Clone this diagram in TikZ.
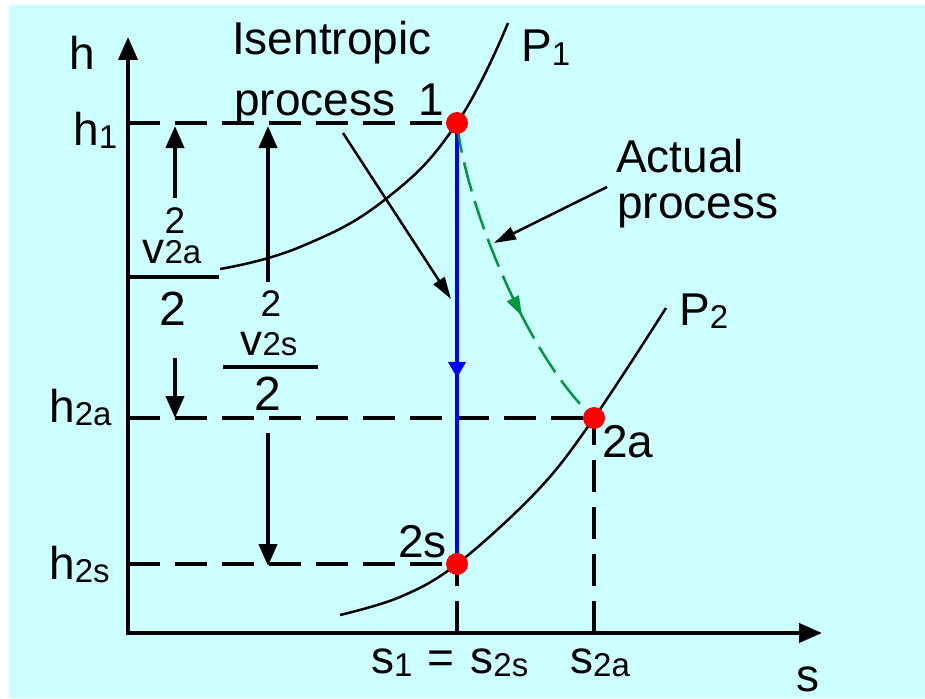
\documentclass[tikz,border=0pt]{standalone}
\usepackage{fontspec}
\setmainfont{Liberation Sans}
\usetikzlibrary{arrows.meta,decorations.markings}
\definecolor{bgcyan}{RGB}{204,255,255}
\definecolor{pgreen}{RGB}{0,150,60}
\newcommand{\bigf}{\fontsize{46}{50}\selectfont}
\newcommand{\subf}[1]{\raisebox{-3.5pt}{\fontsize{33}{35}\selectfont #1}}
\newcommand{\vf}{\fontsize{44}{46}\selectfont}
\newcommand{\vsub}{\fontsize{33}{35}\selectfont}
\newcommand{\supf}{\fontsize{37}{40}\selectfont}
\newcommand{\denf}{\fontsize{48}{50}\selectfont}
\begin{document}
\begin{tikzpicture}[x=1pt,y=-1pt,
  lbl/.style={inner sep=0pt, anchor=base west, font=\bigf},
  ctr/.style={inner sep=0pt, anchor=base},
  dot/.style={circle, fill=red, minimum size=22pt, inner sep=0pt},
  dashline/.style={line width=4pt, dash pattern=on 32pt off 15pt},
  thick4/.style={line width=4pt},
  farrow/.style={line width=4pt, -{Triangle[length=22pt,width=18pt]}},
  ptr/.style={line width=2.5pt, -{Triangle[length=22pt,width=13pt]}},
  pcurve/.style={line width=2.5pt},
]
\useasboundingbox (0,0) rectangle (925,698);
\fill[white] (0,0) rectangle (925,698);
\fill[bgcyan] (9,5) rectangle (925,698);

% key coordinates
\coordinate (O) at (128,633);
\coordinate (ytop) at (128,37);
\coordinate (xend) at (822,633);
\coordinate (c1) at (457,123);
\coordinate (c2s) at (457,564);
\coordinate (c2a) at (594,418);

% axes
\draw[line width=4pt, {Triangle[length=23pt,width=19pt]}-{Triangle[length=23pt,width=19pt]}] (ytop) -- (O) -- (xend);

% dashed guide lines
\draw[dashline] (O |- c1) -- (c1);
\draw[dashline] (O |- c2a) -- (c2a);
\draw[dashline] (O |- c2s) -- (c2s);
\draw[dashline] (c2s |- O) -- (c2s);
\draw[dashline] (c2a |- O) -- (c2a);

% pressure curves
\draw[pcurve] plot[smooth, tension=0.75] coordinates {(220,269) (300,247) (387,198) (c1) (508,23)};
\draw[pcurve] plot[smooth, tension=0.6] coordinates {(340,615) (400,597) (c2s) (538,490) (c2a) (666,308)};

% isentropic process line
\draw[blue, line width=4pt, postaction={decorate},
  decoration={markings, mark=at position 0.578 with {\arrow{Triangle[length=16pt,width=17pt]}}}]
  (c1) -- (c2s);

% actual process curve
\draw[pgreen, line width=2.5pt, dash pattern=on 30pt off 10pt, postaction={decorate},
  decoration={markings, mark=at position 0.62 with {\arrow{Triangle[length=20pt,width=13pt]}}}]
  (c1) .. controls (467,210) and (530,360) .. (c2a);

% kinetic energy arrows
\coordinate (a1s) at (175,198); \coordinate (a1e) at (175,126);
\coordinate (a2s) at (175,358); \coordinate (a2e) at (175,418);
\coordinate (a3s) at (268,282); \coordinate (a3e) at (268,126);
\coordinate (a4s) at (268,433); \coordinate (a4e) at (268,566);
\draw[farrow] (a1s) -- (a1e);
\draw[farrow] (a2s) -- (a2e);
\draw[farrow] (a3s) -- (a3e);
\draw[farrow] (a4s) -- (a4e);

% fractions
\coordinate (fa1) at (128,277); \coordinate (fa2) at (219,277);
\coordinate (fs1) at (223,367); \coordinate (fs2) at (318,367);
\draw[thick4] (fa1) -- (fa2);
\draw[thick4] (fs1) -- (fs2);
\node[ctr, font=\supf, text depth=0pt] (sa) at (175,233) {2};
\node[ctr, text height=23pt] (va) at (172,263) {{\vf v}{\vsub 2a}};
\node[ctr, font=\denf] (da) at (173,325) {2};
\node[ctr, font=\supf, text depth=0pt] (ss) at (271,316) {2};
\node[ctr, text height=24pt] (vs) at (269,355) {{\vf v}{\vsub 2s}};
\node[ctr, font=\denf] (ds) at (268,410) {2};

% label pointer arrows
\coordinate (isoS) at (343,133); \coordinate (isoE) at (451,299);
\coordinate (actS) at (607,187); \coordinate (actE) at (494,243);
\draw[ptr] (isoS) -- (isoE);
\draw[ptr] (actS) -- (actE);

% state points
\node[dot] (p1) at (c1) {};
\node[dot] (p2s) at (c2s) {};
\node[dot] (p2a) at (c2a) {};

% labels
\node[lbl] (lh) at (69,70) {h};
\node[lbl] (lh1) at (73,145) {h\subf{1}};
\node[lbl] (lh2a) at (49,422) {h\subf{2a}};
\node[lbl] (lh2s) at (49,579) {h\subf{2s}};
\node[lbl] (liso1) at (232,55) {Isentropic};
\node[lbl] (liso2) at (234,115) {process};
\node[lbl] (l1) at (418,115) {1};
\node[lbl] (lP1) at (521,62) {P\subf{1}};
\node[lbl] (lact1) at (616,172) {Actual};
\node[lbl] (lact2) at (617,218) {process};
\node[lbl] (lP2) at (679,325) {P\subf{2}};
\node[lbl] (l2a) at (602,457) {2a};
\node[lbl] (l2s) at (398,557) {2s};
\node[lbl] (ls1) at (371,673) {s\subf{1}\hspace{15pt}=\hspace{16pt}s\subf{2s}};
\node[lbl] (ls2a) at (570,673) {s\subf{2a}};
\node[lbl, text depth=0pt] (ls) at (796,691) {s};
\end{tikzpicture}
\end{document}
